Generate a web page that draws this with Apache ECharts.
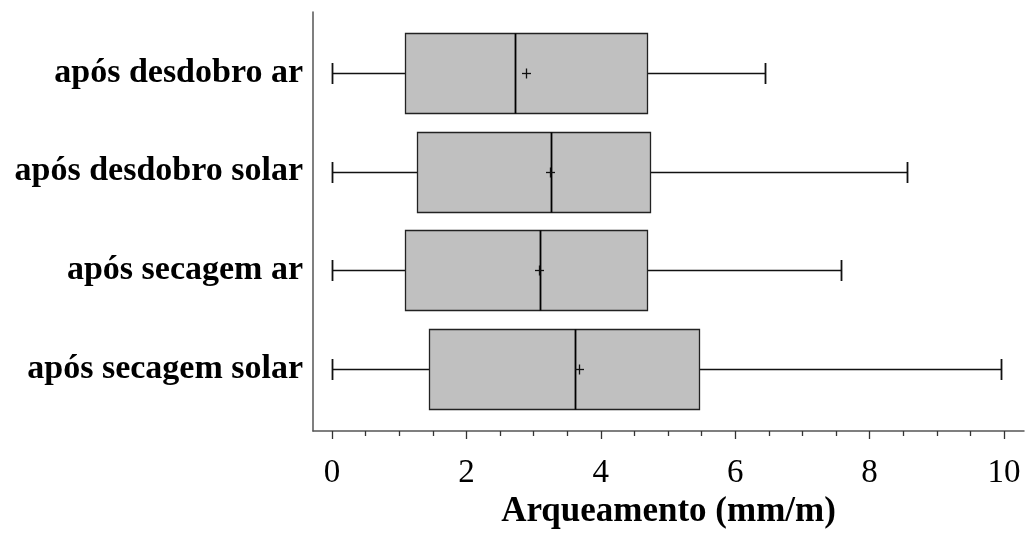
<!DOCTYPE html>
<html>
<head>
<meta charset="utf-8">
<script src="https://cdn.jsdelivr.net/npm/echarts@6/dist/echarts.min.js"></script>
<style>
  html, body { margin: 0; padding: 0; background: #ffffff; }
  #chart { width: 1027px; height: 539px; }
</style>
</head>
<body>
<div id="chart"></div>
<script>
// Box-plot summary of bowing (mm/m) for each drying / sawing treatment
const categories = ['após desdobro ar', 'após desdobro solar', 'após secagem ar', 'após secagem solar'];
const whiskerLow = [0, 0, 0, 0];
const quartile1 = [1.09, 1.27, 1.09, 1.45];
const medians = [2.72, 3.26, 3.10, 3.62];
const quartile3 = [4.69, 4.73, 4.69, 5.46];
const whiskerHigh = [6.44, 8.55, 7.57, 9.96];
const means = [2.89, 3.25, 3.08, 3.67];

const majorTicks = [0, 2, 4, 6, 8, 10];
const minorTicks = [0.5, 1, 1.5, 2.5, 3, 3.5, 4.5, 5, 5.5, 6.5, 7, 7.5, 8.5, 9, 9.5];
const categoryIndex = categories.map((_, i) => i);

const rows = categories.map((_, i) => [i, whiskerLow[i], quartile1[i], medians[i], quartile3[i], whiskerHigh[i], means[i]]);

const serif = 'Liberation Serif, "Times New Roman", serif';
const crisp = v => Math.round(v) + 0.5;

function renderBox(params, api) {
  const i = api.value(0);
  const yc = api.coord([0, i])[1];
  const px = v => api.coord([v, i])[0];
  const xLo = crisp(px(api.value(1)));
  const xQ1 = crisp(px(api.value(2)));
  const xMed = crisp(px(api.value(3)));
  const xQ3 = crisp(px(api.value(4)));
  const xHi = crisp(px(api.value(5)));
  const xMean = crisp(px(api.value(6)));
  const y = crisp(yc);
  const half = 40, cap = 10.5, plus = 4.5;
  const lineStyle = { stroke: '#111', lineWidth: 1.3 };
  return {
    type: 'group',
    children: [
      { type: 'line', shape: { x1: xLo, y1: y, x2: xQ1, y2: y }, style: lineStyle },
      { type: 'line', shape: { x1: xQ3, y1: y, x2: xHi, y2: y }, style: lineStyle },
      { type: 'line', shape: { x1: xLo, y1: y - cap, x2: xLo, y2: y + cap }, style: { stroke: '#111', lineWidth: 1.8 } },
      { type: 'line', shape: { x1: xHi, y1: y - cap, x2: xHi, y2: y + cap }, style: { stroke: '#111', lineWidth: 1.8 } },
      { type: 'rect', shape: { x: xQ1, y: Math.round(yc - half) + 0.5, width: xQ3 - xQ1, height: half * 2 },
        style: { fill: '#c0c0c0', stroke: '#222', lineWidth: 1.3 } },
      { type: 'line', shape: { x1: xMed, y1: Math.round(yc - half) + 0.5, x2: xMed, y2: Math.round(yc + half) + 0.5 },
        style: { stroke: '#000', lineWidth: 1.8 } },
      { type: 'line', shape: { x1: xMean - plus, y1: y, x2: xMean + plus, y2: y }, style: { stroke: '#111', lineWidth: 1.3 } },
      { type: 'line', shape: { x1: xMean, y1: y - plus - 0.5, x2: xMean, y2: y + plus + 0.5 }, style: { stroke: '#111', lineWidth: 1.3 } }
    ]
  };
}

const chart = echarts.init(document.getElementById('chart'), null, { renderer: 'canvas' });

// Plot frame runs slightly past 0 and 10 on the value axis, and past the outer rows on the category axis.
const xPad = 19 / 67.2;
const xPadR = 20 / 67.2;

chart.setOption({
  animation: false,
  backgroundColor: '#ffffff',
  grid: { left: 313, right: 3, top: 12, bottom: 108, containLabel: false },
  xAxis: [
    {
      type: 'value',
      position: 'bottom',
      min: -xPad,
      max: 10 + xPadR,
      name: 'Arqueamento (mm/m)',
      nameLocation: 'middle',
      nameGap: 55,
      nameTextStyle: { fontFamily: serif, fontWeight: 'bold', fontSize: 35, color: '#000' },
      axisLine: { show: true, onZero: false, lineStyle: { color: '#555', width: 1.5 } },
      axisTick: { show: true, length: 8, customValues: majorTicks, lineStyle: { color: '#333', width: 1.3 } },
      axisLabel: { customValues: majorTicks, margin: 26, fontFamily: serif, fontSize: 33, color: '#000' },
      splitLine: { show: false }
    },
    {
      type: 'value',
      position: 'bottom',
      min: -xPad,
      max: 10 + xPadR,
      axisLine: { show: false, onZero: false },
      axisTick: { show: true, length: 5, customValues: minorTicks, lineStyle: { color: '#333', width: 1.3 } },
      axisLabel: { show: false },
      splitLine: { show: false }
    }
  ],
  yAxis: {
    type: 'value',
    inverse: true,
    min: -0.618,
    max: 3.628,
    axisLine: { show: true, onZero: false, lineStyle: { color: '#555', width: 1.5 } },
    axisTick: { show: false },
    splitLine: { show: false },
    axisLabel: {
      customValues: categoryIndex,
      formatter: v => categories[Math.round(v)] || '',
      margin: 10,
      fontFamily: serif,
      fontWeight: 'bold',
      fontSize: 34,
      color: '#000'
    }
  },
  series: [{
    type: 'custom',
    xAxisIndex: 0,
    renderItem: renderBox,
    encode: { x: [1, 2, 3, 4, 5, 6], y: 0 },
    data: rows,
    clip: false
  }]
});
</script>
</body>
</html>
